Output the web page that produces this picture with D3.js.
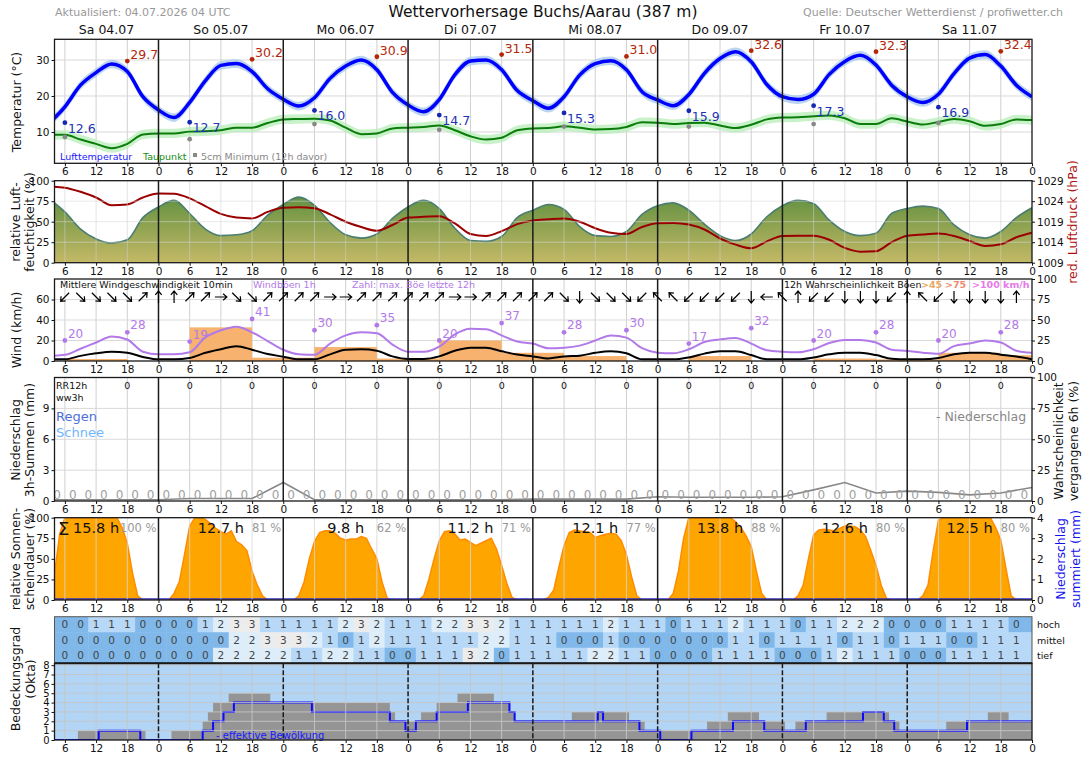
<!DOCTYPE html>
<html><head><meta charset="utf-8">
<script src="https://cdn.jsdelivr.net/npm/d3@7/dist/d3.min.js"></script>
<style>
html,body{margin:0;padding:0;background:#fff;}
svg{display:block;}
</style></head>
<body><svg id="chart" width="1083" height="757"></svg>
<script>
// ================= DATA =================
const dayNames = ["Sa 04.07","So 05.07","Mo 06.07","Di 07.07","Mi 08.07","Do 09.07","Fr 10.07","Sa 11.07"];
// 3-hourly series, hours since 04.07 00:00
const hours3 = d3.range(3, 193, 3);
const temperature = [12.5,17.0,23.0,26.5,28.9,26.8,19.8,16.1, 14.0,18.2,24.2,28.5,29.0,26.8,22.0,19.1,
  17.2,19.5,24.9,28.3,30.0,27.3,21.0,17.5, 15.6,19.0,25.9,29.7,30.0,27.3,21.5,18.7,
  16.6,19.8,25.8,29.0,29.8,27.3,21.2,18.9, 17.3,20.4,26.3,30.4,32.3,29.5,23.2,19.8,
  19.0,20.5,26.0,29.6,31.3,28.6,23.0,19.8, 18.2,20.5,26.2,30.5,31.5,28.3,23.0,19.8];
const dewPoint = [9.2,9.2,7.9,6.7,5.5,6.7,9.3,9.6, 9.6,10.1,10.2,10.5,11.2,11.2,12.5,13.5,
  13.6,13.7,13.2,11.2,9.4,9.6,11.0,11.2, 11.4,11.8,10.5,8.8,7.9,8.4,10.5,11.0,
  11.1,11.6,11.2,10.7,10.8,11.4,12.7,12.6, 12.2,12.5,12.6,11.8,11.1,12.0,13.5,14.0,
  14.1,14.4,14.6,13.8,12.2,12.2,13.8,12.9, 12.1,12.8,13.6,13.0,11.7,12.2,13.5,13.3];
const humidity = [78,62,41,29,24,28,55,68, 76,60,41,33,34,39,58,71, 80,70,49,34,30,35,54,68,
  76,66,42,27,26,32,55,64, 71,65,44,33,32,38,59,69.5, 73,64,47,33,27,35,56,69.5,
  76,72,52,38,33,36,60,66, 69,66,46,34,30,38,55,67];
const pressure = [1027.6,1027.3,1026.3,1024.9,1023.0,1023.2,1024.9,1025.9, 1025.8,1024.7,1022.8,1020.9,1020.0,1019.8,1021.4,1022.4,
  1022.5,1022.3,1020.8,1019.0,1017.7,1016.8,1018.2,1020.0, 1020.2,1020.3,1018.6,1016.0,1015.5,1016.7,1018.4,1019.3,
  1019.6,1019.8,1019.0,1017.4,1016.3,1016.0,1017.7,1018.6, 1018.7,1018.3,1017.1,1014.9,1013.4,1012.5,1014.2,1015.5,
  1015.6,1015.6,1014.6,1012.6,1011.7,1011.8,1014.0,1015.6, 1015.9,1016.1,1015.5,1014.3,1013.1,1013.5,1015.2,1016.3];
const windGust = [5,6,12,18,24,21,9,6.5, 6.5,8.5,23,30,33.5,28,19.5,11, 6.5,6,17,25,28,27,16,9,
  9,14,26,31.5,31,25,19,17, 12.5,13,15,20,25,22.8,12.5,8.1, 7.5,11.4,18.5,21.1,22.5,17,10.5,9.1,
  8.5,11.5,17.5,20.5,20.5,18,11,9.8, 8.1,7,14.5,17,20,18,10,8];
const windMean = [1.6,1.6,5,7.5,9,8,4,1.6, 1.6,3,8,11.5,14.5,11,6.8,4.2, 1.6,1.6,6.5,11,11.4,10,4.5,2,
  2,4.5,10,13,13,9.5,6.3,4.5, 2.5,4.5,5.2,8,9.5,7.5,1.6,1.6, 1.6,3.5,7.2,9.5,9.5,5.8,1.6,1.6,
  1.6,3.5,6.5,8.1,8.1,5.8,2.2,1.6, 1.6,3,6.5,8,8.1,6.2,4.3,1.8];
// wind direction (meteorological, degrees the wind comes from), t = 6..189 every 3h
const dirHours = d3.range(6, 190, 3);
const windDir = [45,315,315,315,315,225,180,180,225,225,270,315,315,225,225,225,225,270,270,225,225,225,225,225,225,270,270,225,225,225,225,
  225,315,0,315,315,315,45,135,135,45,45,45,45,0,90,135,180,45,45,0,0,0,45,180,135,45,0,0,0,0,180];
// daily markers
const maxHours = [18,42,66,90,114,138,162,186];
const tempMax = [29.7,30.2,30.9,31.5,31.0,32.6,32.3,32.4];
const minHours = [6,30,54,78,102,126,150,174];
const tempMin = [12.6,12.7,16.0,14.7,15.3,15.9,17.3,16.9];
const groundMin = [8.6,8.0,12.2,10.6,11.5,11.5,12.2,12.5];
const gustMaxHours = d3.range(6, 190, 12);
const gustMax = [20,28,19,41,30,35,20,37,28,30,17,32,20,28,20,28];
// 12h probability of gusts > 45 km/h (%), intervals starting at
const gustProbStart = d3.range(6, 190, 12);
const gustProb45 = [2.5,0,41,4,17,3,25,10,6,0,6,0,3,2,10,7];
// precipitation
const rr12Hours = d3.range(18, 190, 12);
const rr12 = [0,0,0,0,0,0,0,0,0,0,0,0,0,0,0];
const precipHours = d3.range(4.5, 192, 3);
const precip3h = precipHours.map(() => 0);
const probHours = d3.range(0, 193, 6);
const precipProb = [1,1,1,1,1,2,2,2,15,1,1,1,1,1,1,1,1.5,1.5,1.5,1.5,3.5,3,3,3,3.5,9,15,6.5,8,7,5,6.5,11];
// hourly relative sunshine (%), t = 4..192
const sunHours = d3.range(4, 193, 1);
const sunPct = [
  32,80,100,100,100,100,100,100,100,100,100,100,100,88,69,33,5,0,0,0,
  0,0,0,8,22,55,90,100,100,98,93,87,83,80,84,71,67,60,35,18,5,0,0,0,
  0,0,0,5,22,50,71,82,84,84,81,75,73,74,74,77,75,62,50,22,2,0,0,0,
  0,0,0,5,25,50,72,83,84,80,73,74,70,66,69,72,75,62,42,20,3,0,0,0,
  0,0,0,3,12,40,66,82,85,84,83,82,76,78,80,81,80,72,55,28,5,0,0,0,
  0,0,0,8,35,75,100,100,100,100,100,100,100,100,100,95,88,78,65,35,8,0,0,0,
  0,0,0,5,18,50,79,85,86,85,84,87,90,90,89,85,77,60,42,18,2,0,0,0,
  0,0,0,5,18,60,97,100,100,100,100,100,100,100,100,100,100,88,73,38,5,0,0,0,0];
const sunDaySum = [15.8,12.7,9.8,11.2,12.1,13.8,12.6,12.5];
const sunDayPct = [100,81,62,71,77,88,80,80];
// cloud layers (okta), t = 6..189 every 3h
const layerHours = d3.range(6, 190, 3);
const cloudHigh = [0,0,1,1,1,0,0,0,0,1,2,3,3,1,1,1,1,1,2,3,2,1,1,1,2,2,3,3,2,1,1,
  1,1,1,1,2,1,1,1,0,1,1,1,2,1,1,1,0,1,1,2,2,2,0,0,0,0,1,1,1,1,0];
const cloudMid = [0,0,0,0,0,0,0,0,0,0,0,2,2,3,3,3,2,1,0,1,2,1,1,1,1,1,1,2,2,1,1,
  1,0,0,0,1,0,0,0,0,0,0,0,1,1,0,1,1,1,1,0,1,1,0,1,1,1,0,0,1,1,1];
const cloudLow = [0,0,0,0,0,0,0,0,0,0,2,2,2,2,2,1,1,2,2,1,1,0,0,1,1,1,3,2,0,1,1,
  1,1,1,2,2,1,1,0,0,0,0,1,1,1,1,0,0,0,1,2,1,1,1,0,0,0,1,1,1,1,1];
const layerNames = ["hoch","mittel","tief"];
// total / effective cloud cover (okta) as steps: start hour, value
const cloudTotStart = [4,8.5,21.5,26.5,32.5,33.5,34.5,37.5,45.5,68.5,69.5,74.5,77.5,81.5,88.5,91.5,92.5,103.5,114.5,117.5,129.5,133.5,139.5,144.5,146.5,152.5,164.5,166.5,175.5,183.5,187.5];
const cloudTotVal = [0,1,0,1,2,3,4,5,4,3,2,3,4,5,4,3,2,3,2,1,2,3,2,1,2,3,2,1,2,3,2];
const cloudEffStart = [4,12.5,20.5,32.5,34.5,36.5,38.5,53.5,68.5,71.5,73.5,77.5,83.5,91.5,92.5,108.5,109.5,116.5,120.5,126.5,134.5,140.5,148.5,159.5,163.5,165.5,179.5];
const cloudEffVal = [0,1,0,1,2,3,4,3,2,1,2,3,4,3,2,3,2,1,0,1,2,1,2,3,2,1,2];

// ================= LAYOUT =================
const FONT = "DejaVu Sans, sans-serif";
const svg = d3.select("#chart").attr("font-family", FONT);
const defs = svg.append("defs");
const X0 = 54.5, X1 = 1032;
const T0 = 4, T1 = 192;
const x = d3.scaleLinear().domain([T0, T1]).range([X0, X1]);
const hourTicks = d3.range(6, 193, 6);
const gridT = hourTicks.filter(t => t % 24 !== 0 && t < 192);
const dayT = d3.range(24, 192, 24);

function clip(id, y0, y1) {
  defs.append("clipPath").attr("id", id).append("rect")
    .attr("x", X0).attr("y", y0).attr("width", X1 - X0).attr("height", y1 - y0);
  return `url(#${id})`;
}
function vGrid(y0, y1, color, op) {
  svg.append("g").selectAll("line").data(gridT).join("line")
    .attr("x1", d => x(d)).attr("x2", d => x(d)).attr("y1", y0).attr("y2", y1)
    .attr("stroke", color || "#d0d0d0").attr("stroke-width", 1).attr("opacity", op == null ? 1 : op);
}
function hGrid(scale, ticks, color, op) {
  svg.append("g").selectAll("line").data(ticks).join("line")
    .attr("x1", X0).attr("x2", X1).attr("y1", d => scale(d)).attr("y2", d => scale(d))
    .attr("stroke", color || "#d9d9d9").attr("stroke-width", 1).attr("opacity", op == null ? 1 : op);
}
function dayLines(y0, y1, dash) {
  svg.append("g").selectAll("line").data(dayT).join("line")
    .attr("x1", d => x(d)).attr("x2", d => x(d)).attr("y1", y0).attr("y2", y1)
    .attr("stroke", "#1a1a1a").attr("stroke-width", 1.5).attr("stroke-dasharray", dash || null);
}
function border(y0, y1) {
  svg.append("rect").attr("x", X0).attr("y", y0).attr("width", X1 - X0).attr("height", y1 - y0)
    .attr("fill", "none").attr("stroke", "#1a1a1a").attr("stroke-width", 1.3);
}
function styleAxis(g, fs) {
  g.select(".domain").remove();
  g.attr("font-family", FONT).attr("font-size", fs || 10.5);
  g.selectAll("text").attr("fill", "#111");
  g.selectAll("line").attr("stroke", "#111");
}
function hourAxis(y) {
  const g = svg.append("g").attr("transform", `translate(0,${y})`)
    .call(d3.axisBottom(x).tickValues(hourTicks).tickFormat(d => d % 24).tickSize(3).tickPadding(1.5));
  styleAxis(g);
}
function leftAxis(scale, ticks, fs) {
  const g = svg.append("g").attr("transform", `translate(${X0},0)`)
    .call(d3.axisLeft(scale).tickValues(ticks).tickFormat(d => String(d)).tickSize(3).tickPadding(2));
  styleAxis(g, fs);
}
function rightAxis(scale, ticks) {
  const g = svg.append("g").attr("transform", `translate(${X1},0)`)
    .call(d3.axisRight(scale).tickValues(ticks).tickFormat(d => String(d)).tickSize(3).tickPadding(2));
  styleAxis(g);
}
function vTitle(lines, xs, yc, color, fs) {
  lines.forEach((s, i) => svg.append("text")
    .attr("transform", `translate(${xs[i]},${yc}) rotate(-90)`)
    .attr("text-anchor", "middle").attr("dominant-baseline", "central")
    .attr("font-size", fs || 12.5).attr("fill", color || "#111").text(s));
}
function txt(g, xx, yy, s, fs, fill, anchor, weight) {
  return g.append("text").attr("x", xx).attr("y", yy).attr("font-size", fs).attr("fill", fill)
    .attr("text-anchor", anchor || "start").attr("font-weight", weight || null).text(s);
}

// ================= HEADER =================
txt(svg, 55, 16, "Aktualisiert: 04.07.2026 04 UTC", 11, "#999");
txt(svg, 543, 17, "Wettervorhersage Buchs/Aarau (387 m)", 15.5, "#111", "middle");
txt(svg, 1063, 16, "Quelle: Deutscher Wetterdienst / profiwetter.ch", 11, "#999", "end");
dayNames.forEach((s, i) => {
  const a = Math.max(T0, i * 24), b = Math.min(T1, (i + 1) * 24);
  txt(svg, (x(a) + x(b)) / 2, 34, s, 12.5, "#111", "middle");
});

// ================= TEMPERATURE =================
const PT = [39.3, 163.3];
const yT = d3.scaleLinear().domain([1.3, 35.75]).range([PT[1], PT[0]]);
vGrid(PT[0], PT[1]); hGrid(yT, [10, 20, 30]);
const gT = svg.append("g").attr("clip-path", clip("cT", PT[0], PT[1]));
const tData = hours3.map((t, i) => ({ t, temp: temperature[i], dew: dewPoint[i] }));
gT.append("path").datum(tData)
  .attr("d", d3.area().x(d => x(d.t)).y0(d => yT(d.dew - 1.3)).y1(d => yT(d.dew + 1.3)).curve(d3.curveMonotoneX))
  .attr("fill", "#b8edb8").attr("opacity", 0.75);
gT.append("path").datum(tData)
  .attr("d", d3.line().x(d => x(d.t)).y(d => yT(d.dew)).curve(d3.curveMonotoneX))
  .attr("fill", "none").attr("stroke", "#0a7d0a").attr("stroke-width", 2);
gT.append("path").datum(tData)
  .attr("d", d3.area().x(d => x(d.t)).y0(d => yT(d.temp - 1.2)).y1(d => yT(d.temp + 1.2)).curve(d3.curveMonotoneX))
  .attr("fill", "#aacbed").attr("opacity", 0.8);
gT.append("path").datum(tData)
  .attr("d", d3.line().x(d => x(d.t)).y(d => yT(d.temp)).curve(d3.curveMonotoneX))
  .attr("fill", "none").attr("stroke", "#0000ff").attr("stroke-width", 3.5);
dayLines(PT[0], PT[1]);
const gTm = svg.append("g");
minHours.forEach((t, i) => {
  gTm.append("circle").attr("cx", x(t)).attr("cy", yT(groundMin[i])).attr("r", 2.4).attr("fill", "#888");
  gTm.append("circle").attr("cx", x(t)).attr("cy", yT(tempMin[i])).attr("r", 2.4).attr("fill", "#1428b4");
  txt(gTm, x(t) + 3, yT(tempMin[i]) + 10, tempMin[i].toFixed(1), 12.5, "#1e32b4");
});
maxHours.forEach((t, i) => {
  gTm.append("circle").attr("cx", x(t)).attr("cy", yT(tempMax[i])).attr("r", 2.4).attr("fill", "#b4280a");
  txt(gTm, x(t) + 3, yT(tempMax[i]) - 2, tempMax[i].toFixed(1), 12.5, "#b4280a");
});
txt(svg, 60, 160, "Lufttemperatur", 9.5, "#1a1aff");
txt(svg, 143, 160, "Taupunkt", 9.5, "#128c12");
svg.append("rect").attr("x", 193).attr("y", 153).attr("width", 4).attr("height", 4).attr("fill", "#888");
txt(svg, 201, 160, "5cm Minimum (12h davor)", 9.5, "#888");
border(PT[0], PT[1]);
leftAxis(yT, [10, 20, 30]);
hourAxis(PT[1]);
vTitle(["Temperatur (°C)"], [16], 102);

// ================= HUMIDITY / PRESSURE =================
const PH = [180.7, 262.7];
const yH = d3.scaleLinear().domain([0, 100]).range([PH[1], PH[0]]);
const yP = d3.scaleLinear().domain([1009, 1029]).range([PH[1], PH[0]]);
const grad = defs.append("linearGradient").attr("id", "humGrad").attr("gradientUnits", "userSpaceOnUse")
  .attr("x1", 0).attr("x2", 0).attr("y1", PH[0]).attr("y2", PH[1]);
grad.append("stop").attr("offset", "0%").attr("stop-color", "#4c8838");
grad.append("stop").attr("offset", "100%").attr("stop-color", "#c4b966");
const gH = svg.append("g").attr("clip-path", clip("cH", PH[0], PH[1]));
const hData = hours3.map((t, i) => ({ t, h: humidity[i], p: pressure[i] }));
gH.append("path").datum(hData)
  .attr("d", d3.area().x(d => x(d.t)).y0(PH[1]).y1(d => yH(d.h)).curve(d3.curveMonotoneX))
  .attr("fill", "url(#humGrad)");
gH.append("path").datum(hData)
  .attr("d", d3.line().x(d => x(d.t)).y(d => yH(d.h)).curve(d3.curveMonotoneX))
  .attr("fill", "none").attr("stroke", "#4b7d70").attr("stroke-width", 1.6);
vGrid(PH[0], PH[1], "#d0d0d0", 0.55); hGrid(yH, [25, 50, 75], "#d9d9d9", 0.55);
gH.append("path").datum(hData)
  .attr("d", d3.line().x(d => x(d.t)).y(d => yP(d.p)).curve(d3.curveMonotoneX))
  .attr("fill", "none").attr("stroke", "#9b0000").attr("stroke-width", 2);
dayLines(PH[0], PH[1]);
border(PH[0], PH[1]);
leftAxis(yH, [0, 25, 50, 75, 100]);
rightAxis(yP, [1009, 1014, 1019, 1024, 1029]);
hourAxis(PH[1]);
vTitle(["relative Luft-", "feuchtigkeit (%)"], [15, 29], 222);
vTitle(["red. Luftdruck (hPa)"], [1072], 222, "#b01010");

// ================= WIND =================
const PW = [279, 361];
const yW = d3.scaleLinear().domain([0, 80]).range([PW[1], PW[0]]);
const yWp = d3.scaleLinear().domain([0, 100]).range([PW[1], PW[0]]);
vGrid(PW[0], PW[1]); hGrid(yW, [20, 40, 60]);
const gW = svg.append("g").attr("clip-path", clip("cW", PW[0], PW[1]));
gW.selectAll("rect.bar").data(gustProbStart.map((t, i) => ({ t, v: gustProb45[i] }))).join("rect")
  .attr("x", d => x(d.t)).attr("width", d => x(d.t + 12) - x(d.t))
  .attr("y", d => yWp(d.v)).attr("height", d => PW[1] - yWp(d.v))
  .attr("fill", "#f6b26e");
const wData = hours3.map((t, i) => ({ t, g: windGust[i], m: windMean[i] }));
gW.append("path").datum(wData)
  .attr("d", d3.line().x(d => x(d.t)).y(d => yW(d.g)).curve(d3.curveMonotoneX))
  .attr("fill", "none").attr("stroke", "#b27ae8").attr("stroke-width", 2);
gW.append("path").datum(wData)
  .attr("d", d3.line().x(d => x(d.t)).y(d => yW(d.m)).curve(d3.curveMonotoneX))
  .attr("fill", "none").attr("stroke", "#000").attr("stroke-width", 2);
dayLines(PW[0], PW[1]);
// arrows
const gA = svg.append("g");
dirHours.forEach((t, i) => {
  const to = (windDir[i] + 180) % 360;
  gA.append("path")
    .attr("transform", `translate(${x(t)},297) rotate(${to})`)
    .attr("d", "M0,6 L0,-6 M-3.2,-2.2 L0,-6 L3.2,-2.2")
    .attr("fill", "none").attr("stroke", "#000").attr("stroke-width", 1.2);
});
gustMaxHours.forEach((t, i) => {
  gA.append("circle").attr("cx", x(t)).attr("cy", yW(gustMax[i])).attr("r", 2.4).attr("fill", "#b27ae8");
  txt(gA, x(t) + 3, yW(gustMax[i]) - 3, gustMax[i], 12, "#b27ae8");
});
txt(svg, 60, 288, "Mittlere Windgeschwindigkeit 10min", 9.5, "#111");
txt(svg, 253, 288, "Windböen 1h", 9.5, "#b27ae8");
txt(svg, 352, 288, "Zahl: max. Böe letzte 12h", 9.5, "#b27ae8");
txt(svg, 784, 288, "12h Wahrscheinlichkeit Böen", 9.5, "#111");
txt(svg, 921, 288, ">45", 9.5, "#e8a862", "start", "bold");
txt(svg, 945, 288, ">75", 9.5, "#f08a6c", "start", "bold");
txt(svg, 972, 288, ">100 km/h", 9.5, "#e67ae8", "start", "bold");
border(PW[0], PW[1]);
leftAxis(yW, [0, 20, 40, 60]);
rightAxis(yWp, [0, 25, 50, 75, 100]);
hourAxis(PW[1]);
vTitle(["Wind (km/h)"], [16], 330);

// ================= PRECIPITATION =================
const PR = [377.5, 501];
const yR = d3.scaleLinear().domain([0, 12]).range([PR[1], PR[0]]);
const yRp = d3.scaleLinear().domain([0, 100]).range([PR[1], PR[0]]);
vGrid(PR[0], PR[1]); hGrid(yR, [3, 6, 9]);
const gR = svg.append("g").attr("clip-path", clip("cR", PR[0], PR[1]));
gR.selectAll("rect.pb").data(precipHours.map((t, i) => ({ t, v: precip3h[i] }))).join("rect")
  .attr("x", d => x(d.t - 1.3)).attr("width", d => x(d.t + 1.3) - x(d.t - 1.3))
  .attr("y", d => yR(d.v)).attr("height", d => PR[1] - yR(d.v)).attr("fill", "#4a6fd8");
gR.append("path").datum(probHours.map((t, i) => ({ t, v: precipProb[i] })))
  .attr("d", d3.line().x(d => x(d.t)).y(d => yRp(d.v)))
  .attr("fill", "none").attr("stroke", "#888").attr("stroke-width", 1.6);
precipHours.forEach((t, i) => txt(gR, x(t), 499, precip3h[i], 12, "#a0a0a0", "middle"));
dayLines(PR[0], PR[1]);
rr12Hours.forEach((t, i) => txt(svg, x(t), 389, rr12[i], 9.5, "#111", "middle"));
txt(svg, 56, 389, "RR12h", 9.5, "#111");
txt(svg, 56, 401, "ww3h", 9.5, "#111");
txt(svg, 56, 421, "Regen", 13, "#4a6fd8");
txt(svg, 56, 437, "Schnee", 13, "#6fb6ff");
txt(svg, 936, 421, "- Niederschlag", 12.5, "#888");
border(PR[0], PR[1]);
leftAxis(yR, [0, 3, 6, 9]);
rightAxis(yRp, [0, 25, 50, 75, 100]);
hourAxis(PR[1]);
vTitle(["Niederschlag", "3h-Summen (mm)"], [15, 29], 440);
vTitle(["Wahrscheinlichkeit", "vergangene 6h (%)"], [1058, 1073], 441);

// ================= SUNSHINE =================
const PS = [517.7, 600];
const yS = d3.scaleLinear().domain([0, 100]).range([PS[1], PS[0]]);
const yPc = d3.scaleLinear().domain([0, 4]).range([PS[1], PS[0]]);
const gS = svg.append("g").attr("clip-path", clip("cS", PS[0], PS[1]));
const sData = sunHours.map((t, i) => ({ t, v: sunPct[i] }));
gS.append("path").datum(sData)
  .attr("d", d3.area().x(d => x(d.t)).y0(PS[1]).y1(d => yS(d.v)))
  .attr("fill", "#ffa500").attr("stroke", "#ff8c00").attr("stroke-width", 1.5);
vGrid(PS[0], PS[1], "#d8d8d8", 0.8);
let cum = 0;
const cumData = precipHours.map((t, i) => { cum += precip3h[i]; return { t, v: cum }; });
gS.append("path").datum([{ t: T0, v: 0 }].concat(cumData).concat([{ t: T1, v: cum }]))
  .attr("d", d3.line().x(d => x(d.t)).y(d => yPc(d.v) - 1))
  .attr("fill", "none").attr("stroke", "#3030c8").attr("stroke-width", 1.5);
dayLines(PS[0], PS[1]);
sunDaySum.forEach((v, i) => {
  const b = Math.min(T1, (i + 1) * 24);
  txt(svg, x(i * 24 + 12), 533, v.toFixed(1) + " h", 14.5, "#111", "middle");
  txt(svg, x(b) - 2, 532, sunDayPct[i] + " %", 11.5, "#999", "end");
});
txt(svg, 58, 535, "Σ", 18, "#111");
border(PS[0], PS[1]);
leftAxis(yS, [0, 25, 50, 75, 100]);
rightAxis(yPc, [0, 1, 2, 3, 4]);
hourAxis(PS[1]);
vTitle(["relative Sonnen-", "scheindauer (%)"], [15, 29], 559);
vTitle(["Niederschlag", "summiert (mm)"], [1060, 1075], 559, "#1010ee");

// ================= CLOUD TABLE =================
const PTb = [616.7, 663.3];
const rowH = (PTb[1] - PTb[0]) / 3;
const layerColor = d3.scaleOrdinal().domain([0, 1, 2, 3]).range(["#80b8ea", "#b7d8f6", "#ddedf9", "#ececec"]);
const gTb = svg.append("g").attr("clip-path", clip("cTb", PTb[0], PTb[1]));
[cloudHigh, cloudMid, cloudLow].forEach((arr, r) => {
  const y0 = PTb[0] + r * rowH;
  layerHours.forEach((t, i) => {
    const a = i === 0 ? T0 : t - 1.5, b = i === layerHours.length - 1 ? T1 : t + 1.5;
    gTb.append("rect").attr("x", x(a)).attr("width", x(b) - x(a) + 0.5).attr("y", y0).attr("height", rowH + 0.5)
      .attr("fill", layerColor(arr[i]));
    txt(gTb, x(t), y0 + rowH / 2 + 3.8, arr[i], 10.5, "#444", "middle");
  });
  txt(svg, 1037, y0 + rowH / 2 + 3.5, layerNames[r], 9.5, "#111");
});
svg.append("rect").attr("x", X0).attr("y", PTb[0]).attr("width", X1 - X0).attr("height", PTb[1] - PTb[0])
  .attr("fill", "none").attr("stroke", "#555").attr("stroke-width", 1);

// ================= CLOUD COVER =================
const PC = [663.3, 740];
const yC = d3.scaleLinear().domain([0, 8.2]).range([PC[1], PC[0]]);
svg.append("rect").attr("x", X0).attr("y", PC[0]).attr("width", X1 - X0).attr("height", PC[1] - PC[0]).attr("fill", "#b2d5f6");
const gC = svg.append("g").attr("clip-path", clip("cC", PC[0], PC[1]));
const totData = cloudTotStart.map((t, i) => ({ t, v: cloudTotVal[i] })).concat([{ t: T1, v: cloudTotVal[cloudTotVal.length - 1] }]);
const effData = cloudEffStart.map((t, i) => ({ t, v: cloudEffVal[i] })).concat([{ t: T1, v: cloudEffVal[cloudEffVal.length - 1] }]);
gC.append("path").datum(totData)
  .attr("d", d3.area().x(d => x(d.t)).y0(PC[1]).y1(d => yC(d.v)).curve(d3.curveStepAfter))
  .attr("fill", "#959595");
vGrid(PC[0], PC[1], "#c6c6c6", 0.9);
hGrid(yC, d3.range(1, 9), "#c6c6c6", 0.9);
gC.append("path").datum(effData)
  .attr("d", d3.line().x(d => x(d.t)).y(d => yC(d.v)).curve(d3.curveStepAfter))
  .attr("fill", "none").attr("stroke", "#0a0aff").attr("stroke-width", 2);
dayLines(PC[0], PC[1], "5,2");
txt(svg, 216, 739, "- effektive Bewölkung", 10, "#1a1aff");
svg.append("line").attr("x1", X0).attr("x2", X1).attr("y1", PC[0]).attr("y2", PC[0]).attr("stroke", "#222").attr("stroke-width", 2);
border(PC[0], PC[1]);
leftAxis(yC, d3.range(0, 9), 10);
hourAxis(PC[1]);
vTitle(["Bedeckungsgrad", "(Okta)"], [15, 30], 679);
</script></body></html>
